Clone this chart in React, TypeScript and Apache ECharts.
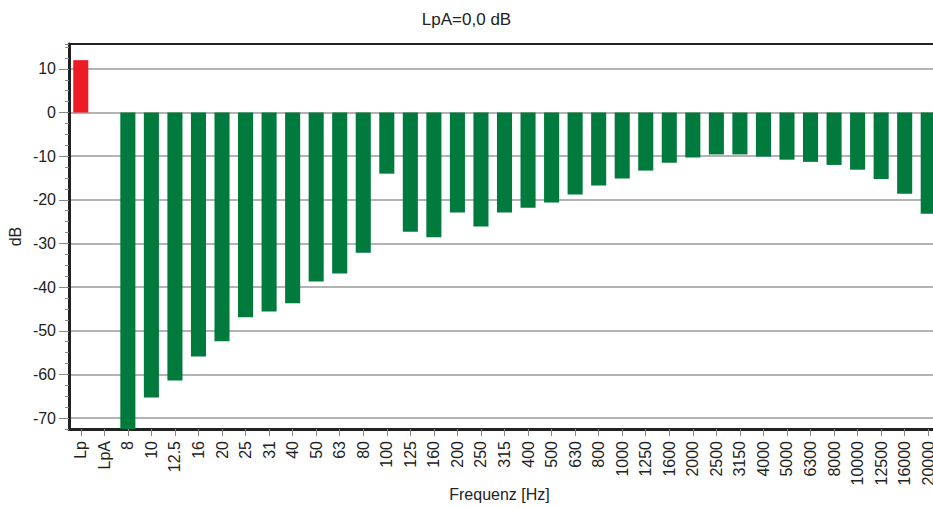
import React, { useEffect, useRef } from "react";
import * as echarts from "echarts";

const chartTitle = "LpA=0,0 dB";
const xAxisName = "Frequenz [Hz]";
const yAxisName = "dB";

const categories = [
  "Lp", "LpA", "8", "10", "12.5", "16", "20", "25", "31", "40", "50", "63", "80",
  "100", "125", "160", "200", "250", "315", "400", "500", "630", "800",
  "1000", "1250", "1600", "2000", "2500", "3150", "4000", "5000", "6300", "8000",
  "10000", "12500", "16000", "20000",
];

const levels = [
  12.0, 0, -75, -65.3, -61.4, -55.9, -52.4, -46.9, -45.6, -43.7, -38.7, -36.9, -32.1,
  -14.0, -27.3, -28.6, -22.9, -26.1, -22.9, -21.8, -20.6, -18.8, -16.7,
  -15.1, -13.3, -11.5, -10.3, -9.6, -9.6, -10.1, -10.8, -11.3, -12.0,
  -13.1, -15.2, -18.6, -23.2,
];

// axis ranges
const yMin = -72.5;
const yMax = 15.7;
const yLabelMin = -70;
const yLabelMax = 10;
const yMajorStep = 10;
const yMinorStep = 2.5;

const W = 933;
const H = 508;
const FONT = "Liberation Sans, Arial, sans-serif";

export default function App() {
  const ref = useRef<HTMLDivElement>(null);
  useEffect(() => {
    if (!ref.current) return;
    const chart = echarts.init(ref.current, null, { renderer: "svg" });

    const gLeft = 69;
    const gRight = -7;
    const gTop = 44;
    const gBottom = 79;
    const plotH = H - gTop - gBottom;
    const pxPerUnit = plotH / (yMax - yMin);
    const g2Top = gTop + (yMax - yLabelMax) * pxPerUnit;
    const g2Bottom = H - (gTop + (yMax - yLabelMin) * pxPerUnit);

    const option: any = {
      animation: false,
      backgroundColor: "#ffffff",
      textStyle: { fontFamily: FONT },
      title: {
        text: chartTitle,
        left: "center",
        top: 6,
        textStyle: { fontFamily: FONT, fontSize: 17, fontWeight: "normal", color: "#222" },
      },
      grid: [
        {
          left: gLeft, right: gRight, top: gTop, bottom: gBottom,
          show: true, borderColor: "#222", borderWidth: 2,
          outerBoundsMode: "none", containLabel: false,
        },
        {
          left: gLeft, right: gRight, top: g2Top, bottom: g2Bottom,
          show: false, outerBoundsMode: "none", containLabel: false,
        },
      ],
      xAxis: [
        {
          type: "category",
          gridIndex: 0,
          data: categories,
          name: xAxisName,
          nameLocation: "middle",
          nameGap: 57,
          nameMoveOverlap: false,
          nameTextStyle: { fontFamily: FONT, fontSize: 16, color: "#222", padding: [0, 10, 0, 0] },
          axisLine: { show: true, onZero: false, lineStyle: { color: "#222", width: 3 } },
          axisTick: { show: true, alignWithLabel: true, length: 7, lineStyle: { color: "#888", width: 1 } },
          axisLabel: {
            rotate: 90, interval: 0, margin: 12,
            fontFamily: FONT, fontSize: 16, color: "#222",
          },
          splitLine: { show: false },
        },
        {
          type: "category",
          gridIndex: 1,
          data: categories,
          show: false,
        },
      ],
      yAxis: [
        {
          type: "value",
          gridIndex: 0,
          min: yMin,
          max: yMax,
          interval: yMinorStep,
          name: yAxisName,
          nameLocation: "middle",
          nameGap: 46,
          nameTextStyle: { fontFamily: FONT, fontSize: 16, color: "#222" },
          axisLine: { show: true, onZero: false, lineStyle: { color: "#222", width: 3 } },
          axisTick: { show: true, length: 4, lineStyle: { color: "#888", width: 1 } },
          axisLabel: { show: false },
          splitLine: { show: false },
        },
        {
          type: "value",
          gridIndex: 1,
          min: yLabelMin,
          max: yLabelMax,
          interval: yMajorStep,
          axisLine: { show: false, onZero: false },
          axisTick: { show: true, length: 10, lineStyle: { color: "#888", width: 1 } },
          axisLabel: { margin: 13, fontFamily: FONT, fontSize: 16, color: "#222" },
          splitLine: { show: true, lineStyle: { color: "#9a9a9a", width: 1.6 } },
        },
      ],
      series: [
        {
          type: "bar",
          xAxisIndex: 0,
          yAxisIndex: 0,
          data: levels,
          barWidth: "64%",
          clip: true,
          itemStyle: {
            color: (p: any) => (p.dataIndex < 2 ? "#ed1c24" : "#007a3d"),
          },
        },
      ],
    };
    chart.setOption(option);
    return () => chart.dispose();
  }, []);
  return (
    <div
      ref={ref}
      style={{ position: "fixed", left: 0, top: 0, width: W, height: H }}
    />
  );
}
